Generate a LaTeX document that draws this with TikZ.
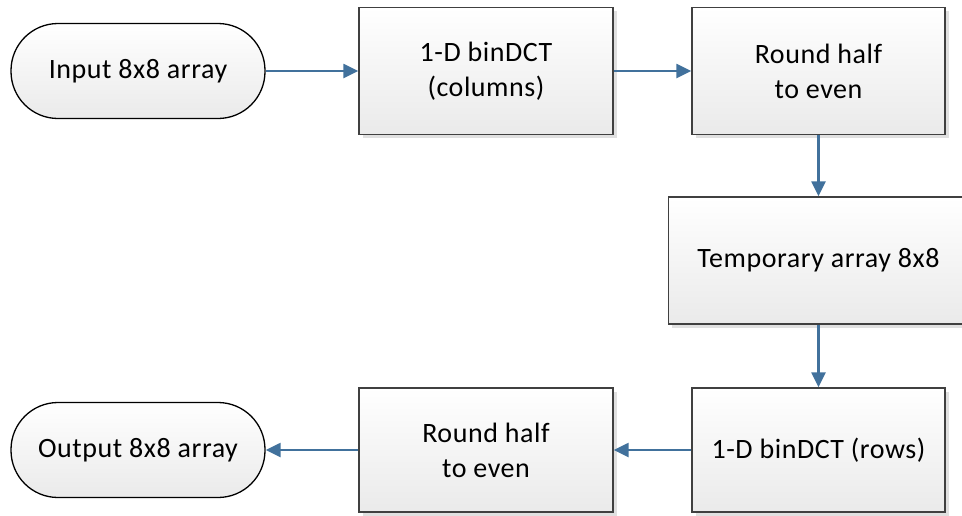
\documentclass[tikz,border=0pt]{standalone}
\usepackage{fontspec}
\setmainfont[LetterSpace=2]{Carlito}
\usetikzlibrary{arrows.meta,shadows}
\definecolor{arrowblue}{RGB}{65,113,156}
\definecolor{boxline}{RGB}{64,64,64}
\definecolor{boxbottom}{RGB}{234,234,234}
\tikzset{
  base/.style={align=center, font=\fontsize{28}{35}\selectfont, inner sep=0pt,
    top color=white, bottom color=boxbottom, line width=1.3pt},
  procbox/.style={base, draw=boxline, rectangle,
    drop shadow={shadow xshift=3.5pt, shadow yshift=-3.5pt, fill=black, opacity=0.12}},
  termbox/.style={base, draw=black, rectangle, rounded corners=47pt,
    minimum width=254pt, minimum height=95pt},
  flow/.style={draw=arrowblue, line width=2.3pt, -{Triangle[length=15pt,width=14pt]}}
}
\begin{document}
\begin{tikzpicture}[x=1pt,y=-1pt]
\useasboundingbox (0,0) rectangle (962,515);
\node[termbox] (in) at (138,71) {Input 8x8 array};
\node[procbox, minimum width=254pt, minimum height=127pt] (c1) at (486,71) {1-D binDCT\\(columns)};
\node[procbox, minimum width=253pt, minimum height=127pt] (r1) at (818.5,71) {Round half\\to even};
\node[procbox, minimum width=300pt, minimum height=127pt] (tmp) at (818.5,260.5) {Temporary array 8x8};
\node[procbox, minimum width=253pt, minimum height=124pt] (rows) at (818.5,450) {1-D binDCT (rows)};
\node[procbox, minimum width=254pt, minimum height=124pt] (r2) at (486,450) {Round half\\to even};
\node[termbox] (out) at (138,450) {Output 8x8 array};
\draw[flow] (in.east) -- (c1.west);
\draw[flow] (c1.east) -- (r1.west);
\draw[flow] (r1.south) -- (tmp.north);
\draw[flow] (tmp.south) -- (rows.north);
\draw[flow] (rows.west) -- (r2.east);
\draw[flow] (r2.west) -- (out.east);
\end{tikzpicture}
\end{document}
